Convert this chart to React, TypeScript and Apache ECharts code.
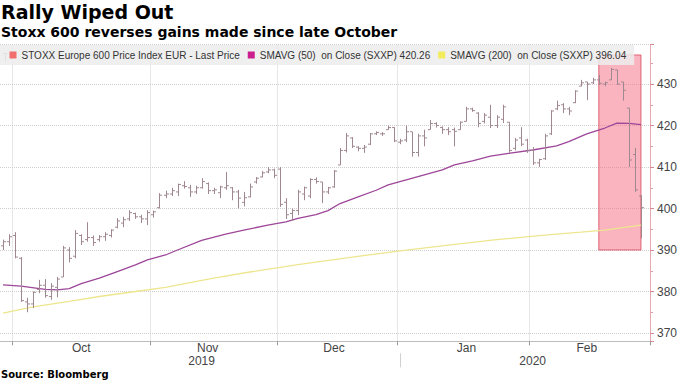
import React, { useEffect, useRef } from "react";
import * as echarts from "echarts";

const titleText = "Rally Wiped Out";
const subtitleText = "Stoxx 600 reverses gains made since late October";
const sourceText = "Source: Bloomberg";
const seriesNames = [
  "STOXX Europe 600 Price Index EUR - Last Price",
  "SMAVG (50)  on Close (SXXP) 420.26",
  "SMAVG (200)  on Close (SXXP) 396.04",
];

const firstDay = "2019-09-27";
const lastDay = "2020-02-28";
const closedDays = ["2019-12-25", "2019-12-26", "2020-01-01"];

const opens = [
  391, 392, 393.5, 388, 377.5, 377, 380.5, 381.5, 378.8, 381, 383.5, 390, 388.5, 393.5, 392.5, 393, 392.5, 393.2, 393.5, 395.5,
  396.5, 397.5, 398.8, 398, 397.5, 398.5, 400.2, 403.2, 403.5, 404, 405.5, 405, 404, 405, 406, 404.3, 403.8, 405, 405, 404,
  401.5, 402.8, 406.4, 407.6, 408.8, 409.3, 409.5, 401.5, 398.8, 399.5, 403.5, 403, 407, 406.4, 404, 405.2, 410.5, 414, 417, 414.8,
  414.5, 415.5, 418, 418, 419, 419.5, 416, 416.5, 418.5, 413.5, 417.5, 419, 420.5, 419.5, 419, 419, 419, 421, 424, 423,
  421, 422, 420, 421.5, 420.8, 414.5, 417, 416.5, 414, 411, 412, 418, 424, 425, 424, 425.5, 429.5, 430.5, 430.3, 431,
  430, 431, 433.4, 430.5, 424.2, 413, 403,
];
const highs = [
  392.5, 393.8, 394.3, 388.3, 378.5, 380, 382.8, 383, 382, 383.5, 391, 390.7, 394.8, 393.8, 396.7, 393.5, 393.6, 394.3, 395, 397.7,
  398, 399.6, 399, 398.5, 399.6, 399.5, 403.7, 404.3, 405, 406, 406.6, 405.7, 405.5, 407.3, 406.3, 405, 405.5, 408.8, 405.2, 404.5,
  404, 406, 407.6, 409, 410, 409.6, 410, 402.5, 400, 404.5, 405.3, 407.3, 407.5, 406.4, 405.2, 409.3, 414.6, 418.2, 417.2, 415,
  415.3, 418.2, 418.6, 418.4, 420, 419.6, 416.8, 420, 418.5, 418, 419, 421.3, 420.8, 419.8, 419.6, 419.5, 421, 424.5, 424.3, 423.2,
  423, 425, 422.5, 425, 420.8, 417, 419.6, 416.8, 414.8, 412, 418, 423.7, 426, 425.4, 424.5, 428.5, 431, 430.5, 431.5, 432.2,
  430.6, 433.9, 433.4, 430.5, 424.2, 414.6, 403.2,
];
const lows = [
  390, 391, 388, 377.5, 375, 376, 379.6, 378.5, 378, 378.6, 383.5, 387, 388, 391.2, 392, 391, 392, 392.2, 393, 395.2,
  395.5, 397, 397.5, 396.5, 396, 397.8, 400, 402.5, 403, 403, 404.8, 402.8, 403.5, 404.8, 403.5, 403.5, 402.5, 404.5, 402, 400,
  400.5, 402.7, 406, 407.5, 408.5, 407.3, 400.4, 397.5, 397, 398.4, 402, 402.5, 406, 401.3, 403.5, 405, 410.5, 413.5, 414.6, 413.8,
  413.4, 415.3, 417.7, 417.5, 419, 416, 415.5, 416, 412.5, 412.5, 415, 419, 419.5, 418, 417.7, 415, 419, 421, 423.3, 419.6,
  420.5, 419.4, 419.4, 420.6, 413.4, 414, 415, 413.4, 410.5, 410, 411.7, 417.7, 423.7, 423, 422.5, 425.4, 429.5, 426.1, 430, 429.8,
  429.5, 431, 429.8, 426, 410, 404, 392.8,
];
const closes = [
  392, 393.2, 388.3, 377.8, 377, 379.8, 381.5, 379, 381.3, 383, 390.5, 388, 394, 392, 393, 391.8, 393.2, 393.8, 394.8, 397,
  397.3, 399, 398, 397.5, 399, 399.2, 403.2, 403.5, 404.3, 405.8, 405.3, 404, 405, 406.5, 404.3, 404.5, 405.2, 405.5, 404, 402.5,
  402.6, 405.2, 407.3, 408.6, 409.3, 408, 401, 398.5, 399.5, 404, 405, 407, 406.5, 404, 405, 409, 414, 417.5, 415, 414.5,
  414.8, 418, 418.3, 418, 419.5, 416.3, 416.3, 418.5, 413.5, 417.5, 417, 420.5, 420, 419, 418.5, 418.6, 420.8, 424, 423.6, 420.5,
  422.5, 420, 422, 424.5, 414, 416.5, 415.5, 414, 411, 411.8, 417.5, 423.5, 424.8, 424, 423.5, 428.3, 430.3, 430, 431, 430.2,
  430.3, 433.5, 430, 428.5, 411.7, 404.5, 400.2,
];

const sma50Points: [number, number][] = [
  [0, 381.6], [3, 381.3], [7, 380.5], [9, 380.4], [11, 380.7], [13, 381.9], [16, 383.2], [19, 384.8], [22, 386.4], [24, 387.6],
  [27, 388.8], [29, 390], [33, 392.3], [37, 393.8], [40, 394.8], [44, 396], [47, 396.8], [49, 397.6], [52, 398.5], [54, 399.5],
  [56, 401.2], [59, 402.8], [62, 404.4], [64, 405.7], [67, 406.9], [70, 408.1], [73, 409.3], [75, 410.5], [78, 411.5], [81, 412.6],
  [84, 413.3], [88, 414.1], [92, 415.1], [94, 416.1], [97, 418], [100, 419.4], [102, 420.6], [104, 420.5], [106, 420.2],
];
const sma200Points: [number, number][] = [
  [0, 374.8], [5, 376.3], [11, 377.6], [16, 378.8], [22, 380], [27, 381], [35, 383.2], [41, 384.7], [49, 386.5], [58, 388.3],
  [66, 389.8], [74, 391.2], [82, 392.5], [90, 393.6], [96, 394.3], [100, 394.8], [106, 396],
];

const monthNames = ["Jan", "Feb", "Mar", "Apr", "May", "Jun", "Jul", "Aug", "Sep", "Oct", "Nov", "Dec"];
const monthLabelIndex = [13, 34, 55, 77, 97];
const yearLabelIndex = [33, 88];
const yearBreakIndex = 66;
const highlightFrom = 99;
const highlightTo = 106;
const highlightLow = 390;
const highlightHigh = 437;
const yMin = 368;
const yMax = 439.5;

function buildTradingDays(): string[] {
  const out: string[] = [];
  const d = new Date(firstDay + "T00:00:00Z");
  const end = new Date(lastDay + "T00:00:00Z");
  while (d <= end) {
    const wd = d.getUTCDay();
    const s = d.toISOString().slice(0, 10);
    if (wd !== 0 && wd !== 6 && !closedDays.includes(s)) out.push(s);
    d.setUTCDate(d.getUTCDate() + 1);
  }
  return out;
}

const categories = buildTradingDays();
const monthStartIndex = categories
  .map((c, i) => (i > 0 && c.slice(5, 7) !== categories[i - 1].slice(5, 7) ? i : -1))
  .filter((i) => i >= 0);

const barColor = "#a08891";
const labelFont = "Liberation Sans, Arial, sans-serif";
const headFont = "DejaVu Sans, Verdana, sans-serif";

function buildOption(): any {
  const ohlc = opens.map((o, i) => [i, o, highs[i], lows[i], closes[i]]);
  return {
    animation: false,
    backgroundColor: "#ffffff",
    textStyle: { fontFamily: labelFont },
    title: [
      {
        text: titleText, left: 1, top: 2, padding: 0,
        textStyle: { fontFamily: headFont, fontWeight: "bold", fontSize: 19, color: "#000" },
      },
      {
        text: subtitleText, left: 1, top: 25, padding: 0,
        textStyle: { fontFamily: headFont, fontWeight: "bold", fontSize: 14, color: "#000" },
      },
      {
        text: sourceText, left: 1, top: 369, padding: 0,
        textStyle: { fontFamily: headFont, fontWeight: "bold", fontSize: 10, color: "#000" },
      },
    ],
    legend: {
      left: 0, top: 45, orient: "horizontal",
      padding: [5, 8, 5, 9.5],
      itemGap: 8, itemWidth: 7, itemHeight: 7, icon: "rect",
      backgroundColor: "rgba(236,236,236,0.85)",
      selectedMode: false,
      textStyle: { fontSize: 10, color: "#333", fontFamily: labelFont },
      data: [
        { name: seriesNames[0], itemStyle: { color: "#f26d6d" } },
        { name: seriesNames[1], itemStyle: { color: "#cc1f8f" } },
        { name: seriesNames[2], itemStyle: { color: "#f3ec5a" } },
      ],
    },
    graphic: [
      {
        type: "group", z: 100,
        children: [
          { type: "line", shape: { x1: 3, y1: 53.5, x2: 7.5, y2: 53.5 }, style: { stroke: "#999", lineWidth: 1 } },
          { type: "line", shape: { x1: 5.5, y1: 53.5, x2: 5.5, y2: 61 }, style: { stroke: "#999", lineWidth: 1 } },
        ],
      },
    ],
    grid: { left: 0, right: 28, top: 44.6, bottom: 38.7, containLabel: false },
    xAxis: [
      {
        type: "category", data: categories, boundaryGap: true,
        axisLine: { show: true, lineStyle: { color: "#bdbdbd" } },
        axisTick: { show: true, interval: (i: number) => monthStartIndex.includes(i), length: 4, lineStyle: { color: "#999" } },
        axisLabel: {
          interval: (i: number) => monthLabelIndex.includes(i),
          formatter: (v: string) => monthNames[Number(v.slice(5, 7)) - 1],
          color: "#444", fontSize: 12, margin: 1, fontFamily: labelFont,
        },
        splitLine: {
          show: true, interval: (i: number) => monthStartIndex.includes(i),
          lineStyle: { color: "#cfcfcf", type: "dotted" },
        },
      },
      {
        type: "category", data: categories, boundaryGap: true, position: "bottom", offset: 12,
        axisLine: { show: false },
        axisTick: { show: true, alignWithLabel: true, interval: (i: number) => i === yearBreakIndex, length: 14, lineStyle: { color: "#d0d0d0" } },
        axisLabel: {
          interval: (i: number) => yearLabelIndex.includes(i),
          formatter: (v: string) => v.slice(0, 4),
          color: "#444", fontSize: 12, margin: 2, fontFamily: labelFont,
        },
        splitLine: { show: false },
      },
    ],
    yAxis: {
      type: "value", position: "right", min: yMin, max: yMax, splitNumber: 5,
      axisLine: { show: true, lineStyle: { color: "#e8a8b0" } },
      axisTick: { show: true, length: 4, lineStyle: { color: "#d88890" } },
      minorTick: { show: true, splitNumber: 2, length: 3, lineStyle: { color: "#e0a0a8" } },
      axisLabel: { showMinLabel: false, showMaxLabel: false, color: "#444", fontSize: 12, margin: 7, fontFamily: labelFont },
      splitLine: { show: true, lineStyle: { color: "#cfcfcf", type: "dotted" } },
    },
    series: [
      {
        name: seriesNames[2], type: "line", data: sma200Points, showSymbol: false, symbol: "none",
        lineStyle: { color: "#ede68f", width: 1.3 }, itemStyle: { color: "#f3ec5a" }, z: 2,
        markArea: {
          silent: true,
          itemStyle: { color: "rgba(246,105,128,0.5)", borderColor: "rgba(215,70,90,0.8)", borderWidth: 1 },
          data: [[
            { xAxis: categories[highlightFrom], yAxis: highlightHigh },
            { xAxis: categories[highlightTo], yAxis: highlightLow },
          ]],
        },
      },
      {
        name: seriesNames[1], type: "line", data: sma50Points, showSymbol: false, symbol: "none",
        lineStyle: { color: "#9d4699", width: 1.3 }, itemStyle: { color: "#cc1f8f" }, z: 3,
      },
      {
        name: seriesNames[0], type: "custom", data: ohlc, z: 4,
        encode: { x: 0, y: [1, 2, 3, 4] },
        itemStyle: { color: "#f26d6d" },
        renderItem: (params: any, api: any) => {
          const i = api.value(0);
          const pO = api.coord([i, api.value(1)]);
          const pH = api.coord([i, api.value(2)]);
          const pL = api.coord([i, api.value(3)]);
          const pC = api.coord([i, api.value(4)]);
          const w = api.size([1, 0])[0] * 0.42;
          const x = Math.round(pH[0]) + 0.5;
          const style = { stroke: barColor, lineWidth: 1 };
          return {
            type: "group",
            children: [
              { type: "line", shape: { x1: x, y1: pH[1], x2: x, y2: pL[1] }, style },
              { type: "line", shape: { x1: x - w, y1: pO[1], x2: x, y2: pO[1] }, style },
              { type: "line", shape: { x1: x, y1: pC[1], x2: x + w, y2: pC[1] }, style },
            ],
          };
        },
      },
    ],
  };
}

export default function App() {
  const ref = useRef<HTMLDivElement>(null);
  useEffect(() => {
    if (!ref.current) return;
    const chart = echarts.init(ref.current, null, { renderer: "svg" });
    chart.setOption(buildOption());
    return () => chart.dispose();
  }, []);
  return (
    <div style={{ position: "fixed", left: 0, top: 0, width: 680, height: 380, background: "#fff" }}>
      <div ref={ref} style={{ width: 680, height: 380 }} />
    </div>
  );
}
